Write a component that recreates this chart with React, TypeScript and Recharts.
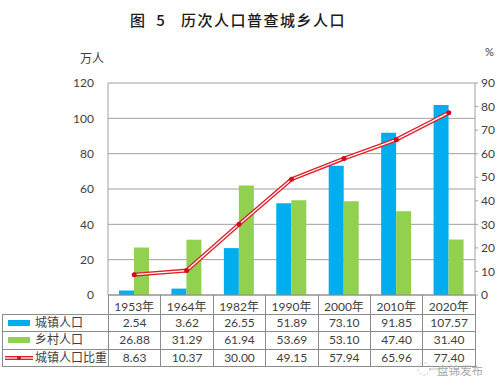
import { Bar, CartesianGrid, ComposedChart, Line, XAxis, YAxis } from "recharts";

const FONT = "Lato, 'Noto Sans CJK SC', sans-serif";
const GRID = "#a0a0a0";
const TEXT = "#404040";

const years = ["1953年", "1964年", "1982年", "1990年", "2000年", "2010年", "2020年"];
const urban = [2.54, 3.62, 26.55, 51.89, 73.1, 91.85, 107.57];
const rural = [26.88, 31.29, 61.94, 53.69, 53.1, 47.4, 31.4];
const urbanShare = [8.63, 10.37, 30.0, 49.15, 57.94, 65.96, 77.4];
const leftTicks = [0, 20, 40, 60, 80, 100, 120];
const rightTicks = [0, 10, 20, 30, 40, 50, 60, 70, 80, 90];

const data = years.map((year, i) => ({
  year,
  urban: urban[i],
  rural: rural[i],
  share: urbanShare[i],
}));

const rows = [
  { name: "城镇人口", values: urban, key: "urban" },
  { name: "乡村人口", values: rural, key: "rural" },
  { name: "城镇人口比重", values: urbanShare, key: "share" },
];

const cellBorder = "1px solid #8c8c8c";

function LegendKey({ kind }: { kind: string }) {
  if (kind === "share") {
    return (
      <svg width={28} height={8} style={{ display: "block" }}>
        <line x1={0} y1={4} x2={28} y2={4} stroke="#e0202c" strokeWidth={4} />
        <line x1={0} y1={4} x2={28} y2={4} stroke="#fff" strokeWidth={1.2} />
        <circle cx={14} cy={4} r={2} fill="#d0101c" />
      </svg>
    );
  }
  return (
    <div
      style={{
        width: 22,
        height: 6,
        marginLeft: 3,
        background: kind === "urban" ? "#00aeef" : "#92d050",
      }}
    />
  );
}

function DataTable() {
  return (
    <table
      style={{
        position: "absolute",
        left: 2,
        top: 295,
        width: 473,
        tableLayout: "fixed",
        borderCollapse: "collapse",
        fontFamily: FONT,
        fontSize: 12,
        color: TEXT,
      }}
    >
      <colgroup>
        <col style={{ width: 106 }} />
        {years.map((y) => (
          <col key={y} style={{ width: 52.4 }} />
        ))}
      </colgroup>
      <tbody>
        <tr style={{ height: 19 }}>
          <td style={{ padding: 0 }} />
          {years.map((y) => (
            <td key={y} style={{ padding: 0, borderLeft: cellBorder, borderRight: cellBorder }} />
          ))}
        </tr>
        {rows.map((row) => (
          <tr key={row.key} style={{ height: 17.5 }}>
            <td style={{ padding: 0, border: cellBorder }}>
              <div style={{ display: "flex", alignItems: "center", height: 16, lineHeight: "16px", paddingLeft: 2, fontSize: 12 }}>
                <div style={{ width: 30, flex: "none" }}>
                  <LegendKey kind={row.key} />
                </div>
                <span style={{ whiteSpace: "nowrap" }}>{row.name}</span>
              </div>
            </td>
            {row.values.map((v, i) => (
              <td key={i} style={{ padding: 0, border: cellBorder, textAlign: "center", lineHeight: "16px" }}>
                {v.toFixed(2)}
              </td>
            ))}
          </tr>
        ))}
      </tbody>
    </table>
  );
}

export default function App() {
  const tick = { fontSize: 12, fill: TEXT, fontFamily: FONT };
  return (
    <div style={{ position: "absolute", left: 0, top: 0, width: 500, height: 389, background: "#fff", overflow: "hidden" }}>
      <div
        style={{
          position: "absolute",
          left: 130,
          top: 9,
          fontFamily: "'Noto Sans CJK SC', sans-serif",
          fontSize: 15,
          fontWeight: 500,
          letterSpacing: 1.5,
          color: "#1a1a1a",
          whiteSpace: "pre",
        }}
      >
        {"图  5   历次人口普查城乡人口"}
      </div>
      <div style={{ position: "absolute", left: 80, top: 49, fontFamily: FONT, fontSize: 12, color: TEXT }}>万人</div>
      <div style={{ position: "absolute", left: 485, top: 45, fontFamily: FONT, fontSize: 11, color: TEXT }}>%</div>

      <ComposedChart
        width={500}
        height={320}
        data={data}
        barSize={15}
        barGap={0}
        margin={{ top: 83, right: 0, bottom: 0, left: 68 }}
      >
        <CartesianGrid yAxisId="left" horizontal vertical={false} stroke={GRID} />
        <XAxis
          dataKey="year"
          height={25}
          tick={tick}
          tickLine={false}
          axisLine={{ stroke: "#8c8c8c" }}
          interval={0}
          tickMargin={1}
        />
        <YAxis
          yAxisId="left"
          width={40}
          domain={[0, 120]}
          ticks={leftTicks}
          tick={tick}
          tickLine={false}
          axisLine={{ stroke: GRID }}
          tickMargin={8}
        />
        <YAxis
          yAxisId="right"
          orientation="right"
          width={25}
          domain={[0, 90]}
          ticks={rightTicks}
          tick={tick}
          tickLine={{ stroke: GRID }}
          tickSize={3}
          axisLine={{ stroke: GRID }}
          tickMargin={3}
        />
        <Bar yAxisId="left" dataKey="urban" fill="#00aeef" isAnimationActive={false} />
        <Bar yAxisId="left" dataKey="rural" fill="#92d050" isAnimationActive={false} />
        <Line
          yAxisId="right"
          dataKey="share"
          stroke="#e0202c"
          strokeWidth={4}
          dot={{ r: 2.5, fill: "#d0101c", stroke: "none" }}
          isAnimationActive={false}
        />
        <Line
          yAxisId="right"
          dataKey="share"
          stroke="#fff"
          strokeWidth={1.3}
          dot={{ r: 2, fill: "#d0101c", stroke: "none" }}
          isAnimationActive={false}
        />
      </ComposedChart>

      <DataTable />

      <svg width={28} height={16} style={{ position: "absolute", left: 414, top: 361 }}>
        <circle cx={10} cy={8} r={6} fill="none" stroke="#bdbdbd" strokeWidth={1} strokeDasharray="2 2" />
        <line x1={15} y1={8} x2={26} y2={8} stroke="#bdbdbd" strokeWidth={1} />
      </svg>
      <div
        style={{
          position: "absolute",
          left: 437,
          top: 364,
          fontFamily: "'Noto Sans CJK SC', sans-serif",
          fontSize: 11.5,
          lineHeight: "12px",
          color: "#a8a8a8",
          whiteSpace: "nowrap",
        }}
      >
        盘锦发布
      </div>
    </div>
  );
}
